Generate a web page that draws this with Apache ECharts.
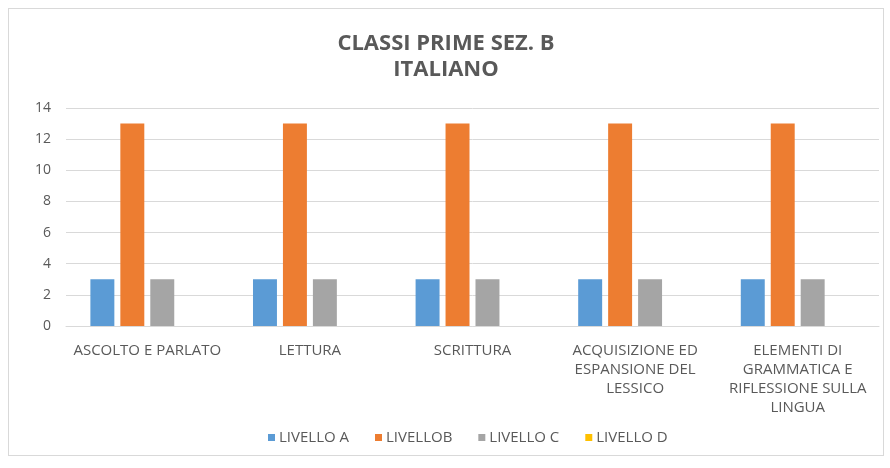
<!DOCTYPE html>
<html>
<head>
<meta charset="utf-8">
<script src="https://cdn.jsdelivr.net/npm/echarts@6/dist/echarts.min.js"></script>
<style>
  html, body { margin: 0; padding: 0; background: #fff; }
  #chart { position: absolute; left: 8px; top: 8px; width: 876px; height: 448px; border: 1px solid #d9d9d9; box-sizing: border-box; }
</style>
</head>
<body>
<div id="chart"></div>
<script>
const categories = [
  'ASCOLTO E PARLATO',
  'LETTURA',
  'SCRITTURA',
  'ACQUISIZIONE ED\nESPANSIONE DEL\nLESSICO',
  'ELEMENTI DI\nGRAMMATICA E\nRIFLESSIONE SULLA\nLINGUA'
]
const livelloA = [3, 3, 3, 3, 3]
const livelloB = [13, 13, 13, 13, 13]
const livelloC = [3, 3, 3, 3, 3]
const livelloD = [0, 0, 0, 0, 0]
const yTicks = [0, 2, 4, 6, 8, 10, 12, 14]

const font = '"Open Sans", sans-serif'
const chart = echarts.init(document.getElementById('chart'))

const bar = (name, data, color) => ({
  name: name,
  type: 'bar',
  data: data,
  itemStyle: { color: color },
  barGap: '25%',
  barCategoryGap: '30%'
})

chart.setOption({
  textStyle: { fontFamily: font },
  title: {
    text: 'CLASSI PRIME SEZ. B\nITALIANO',
    left: 'center',
    top: 17,
    textStyle: { fontSize: 22, fontWeight: 'bold', color: '#595959', lineHeight: 26, fontFamily: font }
  },
  legend: {
    bottom: 5,
    left: 254,
    itemWidth: 7,
    itemHeight: 7,
    itemGap: 26,
    icon: 'rect',
    textStyle: { color: '#595959', fontSize: 15, fontFamily: font, padding: [0, 0, 0, -1] },
    data: ['LIVELLO A', 'LIVELLOB', 'LIVELLO C', 'LIVELLO D']
  },
  grid: { left: 57, right: 4, top: 99, bottom: 129 },
  xAxis: {
    type: 'category',
    data: categories,
    axisLine: { lineStyle: { color: '#d9d9d9' } },
    axisTick: { show: false },
    axisLabel: { color: '#595959', fontSize: 15, lineHeight: 19, interval: 0, margin: 15, fontFamily: font }
  },
  yAxis: {
    type: 'value',
    min: yTicks[0],
    max: yTicks[yTicks.length - 1],
    interval: 2,
    axisLine: { show: false },
    axisTick: { show: false },
    splitLine: { lineStyle: { color: '#d9d9d9' } },
    axisLabel: { color: '#595959', fontSize: 14, margin: 15, fontFamily: font }
  },
  series: [
    bar('LIVELLO A', livelloA, '#5B9BD5'),
    bar('LIVELLOB', livelloB, '#ED7D31'),
    bar('LIVELLO C', livelloC, '#A5A5A5'),
    bar('LIVELLO D', livelloD, '#FFC000')
  ]
})
</script>
</body>
</html>
